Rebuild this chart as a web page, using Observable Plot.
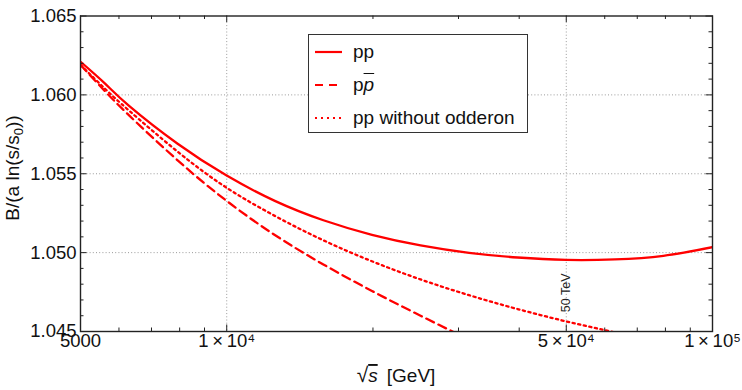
<!DOCTYPE html>
<html><head><meta charset="utf-8">
<script src="https://cdn.jsdelivr.net/npm/d3@7"></script>
<script src="https://cdn.jsdelivr.net/npm/@observablehq/plot@0.6"></script>
<style>
body{margin:0;background:#fff;font-family:"Liberation Sans",Arial,sans-serif;}
#wrap{position:relative;width:742px;height:390px;}
#legend{position:absolute;left:308px;top:34px;width:220px;height:99px;border:1.3px solid #333;background:#fff;box-sizing:border-box;}
.row{position:absolute;left:0;height:24px;display:flex;align-items:center;font-size:19px;color:#111;white-space:nowrap;}
.row svg{margin-left:6px;margin-right:11px;}
</style></head>
<body><div id="wrap"><div id="chart"></div><div id="legend"></div></div>
<script>
// ---- data ----
const ppX   = [5000, 5610, 6295, 7924, 9976, 12559, 15811, 19905, 25059, 31548, 39716, 50000, 62946, 79245, 100000];
const ppY   = [1.0621, 1.06073, 1.0593, 1.0569, 1.0549, 1.05328, 1.05205, 1.05113, 1.05046, 1.04999, 1.04969, 1.04954, 1.04957, 1.0498, 1.05035];

const pbarX = [5000, 5610, 6295, 7924, 9976, 12559, 15811, 19905, 25059, 31548];
const pbarY = [1.0619, 1.06025, 1.0587, 1.05585, 1.0533, 1.05112, 1.04925, 1.04757, 1.0460, 1.04448];

const noOddX = [5000, 5610, 6295, 7924, 9976, 12559, 15811, 19905, 25059, 31548, 39716, 50000, 62946];
const noOddY = [1.0619, 1.0604, 1.0590, 1.0564, 1.05413, 1.05233, 1.05078, 1.04945, 1.0483, 1.0473, 1.04642, 1.04564, 1.04494];

const seriesNames = ["pp", "pp\u0304", "pp without odderon"];

const xTicks = [5000, 10000, 50000, 100000];
const xTickLabels = ["5000", "1\u2009\u00d7\u200910\u2074", "5\u2009\u00d7\u200910\u2074", "1\u2009\u00d7\u200910\u2075"];
const xMinor = [6000, 7000, 8000, 9000, 20000, 30000, 40000, 60000, 70000, 80000, 90000];
const xGrid = [10000, 50000];

const yTicks = [1.045, 1.050, 1.055, 1.060, 1.065];
const yTickLabels = ["1.045", "1.050", "1.055", "1.060", "1.065"];
const yMinor = [1.046, 1.047, 1.048, 1.049, 1.051, 1.052, 1.053, 1.054, 1.056, 1.057, 1.058, 1.059, 1.061, 1.062, 1.063, 1.064];
const yGrid = [1.050, 1.055, 1.060];

const annotation = [{x: 50000, y: 1.04745, text: "50 TeV"}];

// ---- layout ----
const W = 742, H = 390, mL = 80, mR = 30, mT = 15.5, mB = 59;
const iW = W - mL - mR, iH = H - mT - mB;
const red = "#ff0000";

const toRows = (xs, ys) => xs.map((x, i) => ({x, y: ys[i]}));
const ppRows = toRows(ppX, ppY), pbarRows = toRows(pbarX, pbarY), noOddRows = toRows(noOddX, noOddY);

const xLab = new Map(xTicks.map((d, i) => [d, xTickLabels[i]]));
const yLab = new Map(yTicks.map((d, i) => [d, yTickLabels[i]]));
const tickCol = "#222";
const gridStyle = {stroke: "#9a9a9a", strokeOpacity: 1, strokeWidth: 1, strokeDasharray: "1,2.2"};

const chart = Plot.plot({
  width: W, height: H,
  marginLeft: mL, marginRight: mR, marginTop: mT, marginBottom: mB,
  style: {fontFamily: "Liberation Sans, Arial, sans-serif", background: "#fff", color: "#111"},
  x: {type: "log", domain: [5000, 100000]},
  y: {domain: [1.045, 1.065]},
  marks: [
    Plot.gridX(xGrid, gridStyle),
    Plot.gridY(yGrid, gridStyle),
    Plot.line(noOddRows, {x: "x", y: "y", stroke: red, strokeWidth: 2.3, strokeDasharray: "2.2,3.5", curve: "natural", clip: true}),
    Plot.line(pbarRows, {x: "x", y: "y", stroke: red, strokeWidth: 2.3, strokeDasharray: "8.5,5", curve: "natural", clip: true}),
    Plot.line(ppRows, {x: "x", y: "y", stroke: red, strokeWidth: 2.3, curve: "natural", clip: true}),
    Plot.text(annotation, {x: "x", y: "y", text: "text", rotate: -90, fontSize: 12.5, fill: "#222"}),
    // inward ticks, bottom & top
    Plot.ruleX(xMinor, {insetTop: iH - 3.5, stroke: tickCol}),
    Plot.ruleX(xMinor, {insetBottom: iH - 3.5, stroke: tickCol}),
    Plot.ruleX(xTicks, {insetTop: iH - 6.5, stroke: tickCol}),
    Plot.ruleX(xTicks, {insetBottom: iH - 6.5, stroke: tickCol}),
    // inward ticks, left & right
    Plot.ruleY(yMinor, {insetRight: iW - 3.5, stroke: tickCol}),
    Plot.ruleY(yMinor, {insetLeft: iW - 3.5, stroke: tickCol}),
    Plot.ruleY(yTicks, {insetRight: iW - 6.5, stroke: tickCol}),
    Plot.ruleY(yTicks, {insetLeft: iW - 6.5, stroke: tickCol}),
    Plot.frame({stroke: "#222", strokeWidth: 1.4}),
    Plot.axisX(xTicks, {tickSize: 0, tickPadding: 2, tickFormat: d => xLab.get(d), fontSize: 18.5, label: null}),
    Plot.axisY(yTicks, {tickSize: 0, tickPadding: 4, tickFormat: d => yLab.get(d), fontSize: 18.5, label: null})
  ]
});
document.getElementById("chart").appendChild(chart);

// ---- axis titles ----
const svg = d3.select(chart);
const xt = svg.append("text").attr("x", 396).attr("y", 382).attr("text-anchor", "middle")
  .attr("font-size", 19).attr("fill", "#111");
xt.append("tspan").attr("font-size", 21).text("\u221a");
xt.append("tspan").attr("font-style", "italic").attr("text-decoration", "overline").text("s");
xt.append("tspan").text("\u2009 [GeV]");

const yt = svg.append("text").attr("transform", "translate(19,168) rotate(-90)").attr("text-anchor", "middle")
  .attr("font-size", 19).attr("fill", "#111");
yt.append("tspan").text("B/(a ln(s/s");
yt.append("tspan").attr("font-size", 13).attr("dy", 4).text("0");
yt.append("tspan").attr("dy", -4).text("))");

// ---- legend ----
const legend = document.getElementById("legend");
const dashes = [null, "8,6", "2,4"];
const tops = [5, 37.5, 71];
seriesNames.forEach((name, i) => {
  const row = document.createElement("div");
  row.className = "row";
  row.style.top = tops[i] + "px";
  const dash = dashes[i] ? `stroke-dasharray="${dashes[i]}"` : "";
  let label = name;
  if (i === 1) label = 'p<span style="font-style:italic;text-decoration:overline">p</span>';
  row.innerHTML = `<svg width="27" height="10"><line x1="0" x2="27" y1="5" y2="5" stroke="${red}" stroke-width="2.2" ${dash}/></svg><span>${label}</span>`;
  legend.appendChild(row);
});
</script>
</body></html>
